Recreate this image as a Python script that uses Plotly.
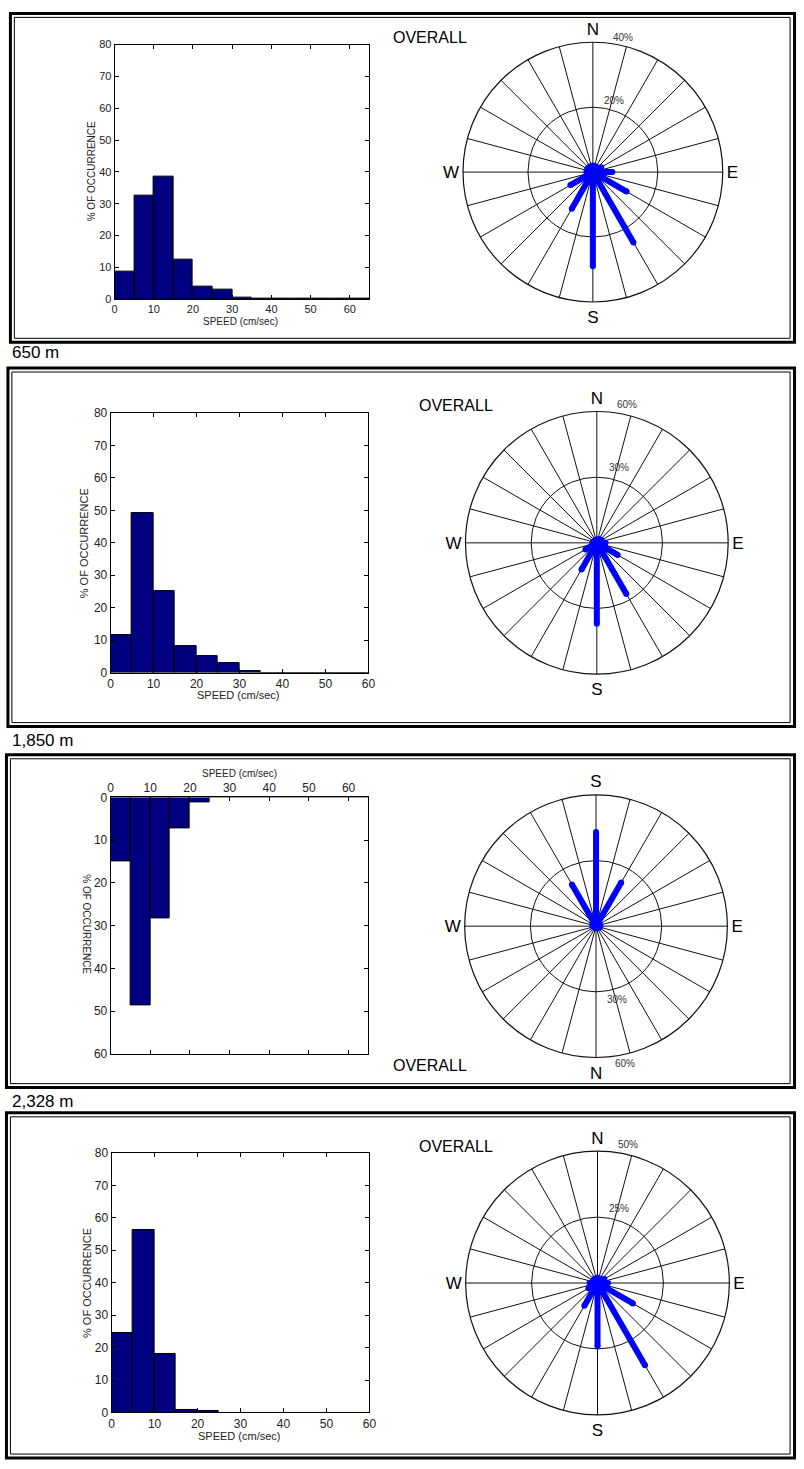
import plotly.graph_objects as go

W, H = 804, 1469
FONT = "Liberation Sans, Arial, sans-serif"

# ---------------- data ----------------
speed_bins = [2.5, 7.5, 12.5, 17.5, 22.5, 27.5, 32.5, 37.5, 42.5, 47.5, 52.5, 57.5, 62.5]
hist_650 = [8.7, 32.5, 38.4, 12.4, 3.9, 3.1, 0.6, 0.15, 0.15, 0.15, 0.15, 0.15, 0.15]
hist_1850 = [11.5, 49.2, 25.0, 8.2, 5.1, 2.8, 0.4, 0, 0, 0, 0, 0, 0]
hist_2328 = [15.0, 48.7, 28.4, 7.3, 1.2, 0, 0, 0, 0, 0, 0, 0, 0]
hist_4 = [24.4, 56.4, 18.0, 0.9, 0.4, 0, 0, 0, 0, 0, 0, 0, 0]

directions = [0, 30, 60, 90, 120, 150, 180, 210, 240, 270, 300, 330]
rose_650 = [2, 2, 3, 6, 12, 25, 29, 13, 8, 2, 2, 2]
rose_1850 = [1.5, 2, 2.5, 4, 11, 27, 37, 14, 6, 2, 1.5, 1.5]
rose_2328 = [1, 1, 1.5, 2, 2, 23, 43, 22, 2, 1.5, 1, 1]
rose_4 = [2, 2, 3, 4, 15.5, 36, 24, 10, 4, 3, 2, 2]

spokes = list(range(0, 360, 15))
compass_text = {0: "N", 90: "E", 180: "S", 270: "W"}

depth_labels = ["650 m", "1,850 m", "2,328 m"]


def px_x(a, b):
    return [a / W, b / W]


def px_y(top, bottom):
    return [1 - bottom / H, 1 - top / H]


fig = go.Figure()

# ---------------- histograms ----------------
hist_specs = [
    (hist_650, "x", "y", (113, 371), (38, 295), 65, 80, False, 11),
    (hist_1850, "x2", "y2", (109, 370), (410, 672), 60, 80, False, 12),
    (hist_2328, "x3", "y3", (109, 370), (798, 1057), 65, 60, True, 12),
    (hist_4, "x4", "y4", (110, 371), (1157, 1419), 60, 80, False, 12),
]

for i, (vals, xa, ya, xd, yd, xmax, ymax, flipped, tf) in enumerate(hist_specs):
    fig.add_trace(go.Bar(
        x=speed_bins, y=vals, width=5, xaxis=xa, yaxis=ya,
        marker=dict(color="#000080", line=dict(color="black", width=1)),
        showlegend=False, hoverinfo="skip",
    ))
    sfx = "" if i == 0 else str(i + 1)
    axis_common = dict(
        showline=True, linecolor="black", linewidth=1, mirror="ticks",
        ticks="inside", ticklen=4, tickcolor="black", showgrid=False,
        zeroline=False, tickfont=dict(family=FONT, size=tf, color="#222"),
        fixedrange=True,
    )
    fig.layout["xaxis" + sfx] = dict(
        axis_common, domain=px_x(*xd), range=[0, xmax], dtick=10, tick0=0,
        anchor="y" + sfx, side="top" if flipped else "bottom",
    )
    fig.layout["yaxis" + sfx] = dict(
        axis_common, domain=px_y(*yd),
        range=[ymax, 0] if flipped else [0, ymax], dtick=10, tick0=0,
        anchor="x" + sfx,
    )

# ---------------- roses ----------------
rose_specs = [
    (rose_650, "polar", (597.3, 166.7), 131.5, 40, False),
    (rose_1850, "polar2", (601.3, 541.0), 133.0, 60, False),
    (rose_2328, "polar3", (600.5, 928.0), 133.0, 60, True),
    (rose_4, "polar4", (602.0, 1288.3), 133.5, 50, False),
]

for vals, sub, (cx, cy), rad, rmax, flipped in rose_specs:
    r, th = [], []
    for d, v in zip(directions, vals):
        r += [0, v, None]
        th += [d, d, None]
    fig.add_trace(go.Scatterpolar(
        r=r, theta=th, subplot=sub, mode="lines+markers",
        line=dict(color="#0000FF", width=6),
        marker=dict(color="#0000FF", size=6),
        showlegend=False, hoverinfo="skip",
    ))
    fig.layout[sub] = dict(
        domain=dict(x=px_x(cx - rad, cx + rad), y=px_y(cy - rad, cy + rad)),
        bgcolor="white",
        angularaxis=dict(
            rotation=-90 if flipped else 90,
            direction="counterclockwise" if flipped else "clockwise",
            tickmode="array", tickvals=spokes,
            ticktext=[compass_text.get(s, "") for s in spokes],
            ticks="", showgrid=True, gridcolor="#111", gridwidth=1,
            showline=True, linecolor="#111", linewidth=1.2,
            tickfont=dict(family=FONT, size=17, color="black"),
        ),
        radialaxis=dict(
            range=[0, rmax], tickvals=[rmax / 2, rmax], showticklabels=False,
            ticks="", showline=False, showgrid=True, gridcolor="#111",
            gridwidth=1,
        ),
    )

# ---------------- annotations ----------------
ann = []


def text(x, y, s, size, angle=0, xanchor="center", color="black"):
    ann.append(dict(
        x=x / W, y=1 - y / H, xref="paper", yref="paper", text=s,
        showarrow=False, xanchor=xanchor, yanchor="middle", textangle=angle,
        font=dict(family=FONT, size=size, color=color),
    ))


# axis titles
text(240.5, 318, "SPEED (cm/sec)", 10, color="#222")
text(90, 166, "% OF OCCURRENCE", 10, angle=-90, color="#222")
text(238, 695, "SPEED (cm/sec)", 11, color="#222")
text(81.7, 541.7, "% OF OCCURRENCE", 11, angle=-90, color="#222")
text(239.2, 774.3, "SPEED (cm/sec)", 10, color="#222")
text(85, 926, "% OF OCCURRENCE", 10, angle=90, color="#222")
text(239.7, 1442.7, "SPEED (cm/sec)", 11, color="#222")
text(85, 1288.3, "% OF OCCURRENCE", 11, angle=-90, color="#222")

# OVERALL titles
text(432, 31, "OVERALL", 16)
text(459, 402, "OVERALL", 16)
text(432, 1069, "OVERALL", 16)
text(459, 1150, "OVERALL", 16)

# ring labels
text(619, 94, "20%", 10, color="#333")
text(628, 31, "40%", 10, color="#333")
text(624, 465, "30%", 10, color="#333")
text(632, 401, "60%", 10, color="#333")
text(622, 1002, "30%", 10, color="#333")
text(630, 1067, "60%", 10, color="#333")
text(624, 1213, "25%", 10, color="#333")
text(633, 1148, "50%", 10, color="#333")

# depth labels
text(7, 349, depth_labels[0], 17, xanchor="left")
text(7, 741, depth_labels[1], 17, xanchor="left")
text(7, 1105, depth_labels[2], 17, xanchor="left")

# ---------------- panel frames ----------------
shapes = []
frames = [
    (7.5, 6.5, 801.5, 338.5),
    (5.0, 364.5, 801.5, 726.5),
    (3.5, 755.0, 801.5, 1091.0),
    (3.5, 1116.5, 801.5, 1465.0),
]
for x0, y0, x1, y1 in frames:
    shapes.append(dict(type="rect", xref="paper", yref="paper",
                       x0=x0 / W, x1=x1 / W, y0=1 - y1 / H, y1=1 - y0 / H,
                       line=dict(color="black", width=3)))
    shapes.append(dict(type="rect", xref="paper", yref="paper",
                       x0=(x0 + 4) / W, x1=(x1 - 4.5) / W,
                       y0=1 - (y1 - 4) / H, y1=1 - (y0 + 4) / H,
                       line=dict(color="black", width=1)))

fig.update_layout(
    width=W, height=H, margin=dict(l=0, r=0, t=0, b=0),
    paper_bgcolor="white", plot_bgcolor="white",
    bargap=0, annotations=ann, shapes=shapes, showlegend=False,
    font=dict(family=FONT),
)

fig.write_html("out.html")
